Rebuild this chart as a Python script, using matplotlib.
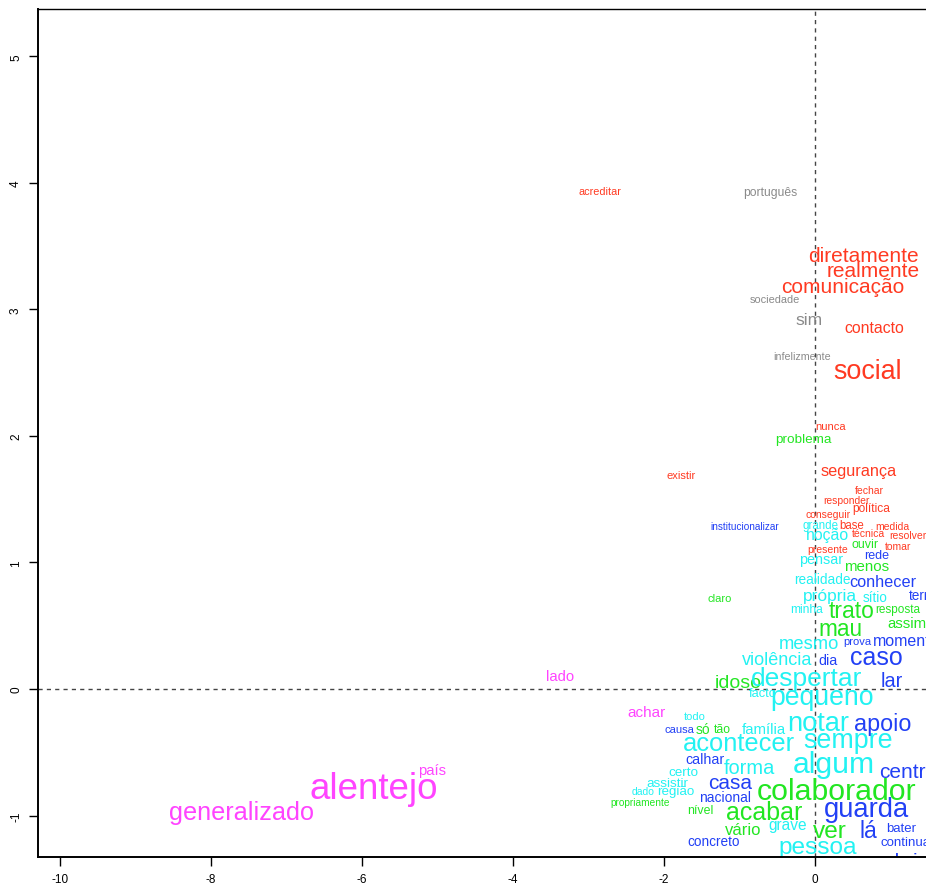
import matplotlib
matplotlib.use("Agg")
from matplotlib import pyplot as plt

plt.rcParams['font.family'] = ['Liberation Sans', 'DejaVu Sans']

# words per class: (word, x, y, size)
red_words = ["acreditar", "diretamente", "realmente", "comunicação", "contacto", "social",
             "nunca", "segurança", "existir", "fechar", "responder", "política", "conseguir",
             "base", "medida", "técnica", "resolver", "tomar", "presente"]
red_x = [-2.85, 0.64, 0.77, 0.36, 0.78, 0.69, 0.20, 0.58, -1.77, 0.72, 0.42, 0.74, 0.17,
         0.48, 1.02, 0.70, 1.23, 1.10, 0.16]
red_y = [3.94, 3.43, 3.31, 3.18, 2.86, 2.51, 2.08, 1.73, 1.69, 1.57, 1.49, 1.43, 1.38,
         1.30, 1.29, 1.23, 1.22, 1.13, 1.11]
red_size = [7.8, 15, 15, 15, 11.4, 19.4, 8, 11.7, 8, 7.5, 7.4, 8.6, 7.5, 8.3, 7.5, 7.5, 7.5, 7.5, 7.5]

gray_words = ["português", "sociedade", "sim", "infelizmente"]
gray_x = [-0.60, -0.53, -0.08, -0.17]
gray_y = [3.93, 3.08, 2.92, 2.63]
gray_size = [8.7, 7.9, 12.5, 7.7]

green_words = ["problema", "ouvir", "menos", "claro", "trato", "resposta", "assim", "mau",
               "idoso", "só", "tão", "colaborador", "acabar", "propriamente", "nível",
               "vário", "ver"]
green_x = [-0.16, 0.66, 0.68, -1.27, 0.48, 1.10, 1.21, 0.34, -1.02, -1.48, -1.23, 0.28,
           -0.68, -2.32, -1.52, -0.95, 0.19]
green_y = [1.98, 1.15, 0.97, 0.72, 0.62, 0.63, 0.52, 0.48, 0.05, -0.32, -0.32, -0.81,
           -0.97, -0.89, -0.96, -1.11, -1.12]
green_size = [9.7, 9, 10.8, 8, 16.5, 8.5, 10.8, 16.3, 14, 10, 8.8, 21.8, 18, 7.3, 8.9, 12, 17.6]

cyan_words = ["grande", "noção", "pensar", "realidade", "própria", "sítio", "minha", "mesmo",
              "violência", "despertar", "facto", "pequeno", "todo", "família", "notar",
              "sempre", "acontecer", "algum", "forma", "certo", "assistir", "dado", "região",
              "grave", "pessoa"]
cyan_x = [0.07, 0.16, 0.08, 0.09, 0.19, 0.79, -0.11, -0.08, -0.50, -0.11, -0.69, 0.09,
          -1.60, -0.68, 0.04, 0.44, -1.01, 0.25, -0.87, -1.75, -1.96, -2.28, -1.85,
          -0.36, 0.04]
cyan_y = [1.30, 1.22, 1.03, 0.87, 0.74, 0.73, 0.63, 0.36, 0.23, 0.09, -0.03, -0.06,
          -0.21, -0.32, -0.27, -0.40, -0.43, -0.59, -0.62, -0.66, -0.74, -0.81, -0.81,
          -1.07, -1.25]
cyan_size = [8.3, 11.4, 10.4, 9.8, 12.5, 9.8, 8.7, 13.2, 13, 19, 9.3, 19.2, 8, 10.7, 19.6,
             19.4, 18.4, 21.7, 14.4, 9.7, 9.7, 7.5, 9.6, 11.2, 17.6]

blue_words = ["institucionalizar", "rede", "conhecer", "terra", "prova", "momento", "dia",
              "caso", "lar", "apoio", "causa", "calhar", "centro", "casa", "nacional",
              "guarda", "lá", "bater", "concreto", "continuar", "abrir"]
blue_x = [-0.93, 0.82, 0.90, 1.42, 0.56, 1.21, 0.17, 0.81, 1.02, 0.89, -1.80, -1.46, 1.23,
          -1.13, -1.19, 0.68, 0.70, 1.14, -1.34, 1.22, 1.18]
blue_y = [1.29, 1.06, 0.85, 0.74, 0.38, 0.38, 0.23, 0.25, 0.07, -0.27, -0.32, -0.55, -0.65,
          -0.74, -0.85, -0.95, -1.12, -1.10, -1.20, -1.21, -1.36]
blue_size = [7.2, 9, 11.7, 9.8, 8, 11.5, 10.3, 18, 14.3, 16.8, 8, 10.3, 15, 15, 10, 19.7,
             16.5, 9.5, 9.8, 9.5, 15]

pink_words = ["país", "alentejo", "generalizado", "lado", "achar"]
pink_x = [-5.07, -5.85, -7.60, -3.38, -2.23]
pink_y = [-0.64, -0.79, -0.97, 0.10, -0.18]
pink_size = [10.7, 26.5, 18.2, 10.7, 11]

groups = [
    (red_words, red_x, red_y, red_size, "#ff3a22"),
    (gray_words, gray_x, gray_y, gray_size, "#8a8a8a"),
    (green_words, green_x, green_y, green_size, "#22e622"),
    (cyan_words, cyan_x, cyan_y, cyan_size, "#22f2f2"),
    (blue_words, blue_x, blue_y, blue_size, "#2240f5"),
    (pink_words, pink_x, pink_y, pink_size, "#ff44ff"),
]

x_ticks = [-10, -8, -6, -4, -2, 0]
y_ticks = [-1, 0, 1, 2, 3, 4, 5]

fig = plt.figure(figsize=(9.26, 8.87), dpi=100)
ax = fig.add_axes([38 / 926, 29 / 887, 898 / 926, 848 / 887])

ax.axvline(0, color="#444444", lw=1, ls=(0, (3, 3)), zorder=1)
ax.axhline(0, color="#444444", lw=1, ls=(0, (3, 3)), zorder=1)

for words, xs, ys, sizes, col in groups:
    for w, x, y, s in zip(words, xs, ys, sizes):
        ax.text(x, y, w, color=col, fontsize=s, ha="center", va="center",
                clip_on=True, zorder=2)

ax.set_xticks(x_ticks)
ax.set_yticks(y_ticks)
ax.set_xticklabels([str(t) for t in x_ticks], fontsize=8.5)
ax.set_yticklabels([str(t) for t in y_ticks], fontsize=8.5, rotation=90, va="center")
ax.tick_params(direction="out", length=6.5, width=1, pad=5)
ax.set_xlim(-10.29, 1.6)
ax.set_ylim(-1.328, 5.375)
for side in ["left", "bottom"]:
    ax.spines[side].set_linewidth(1.4)
ax.spines["top"].set_linewidth(1.0)
ax.spines["right"].set_visible(False)

fig.savefig("out.png", dpi=100)
